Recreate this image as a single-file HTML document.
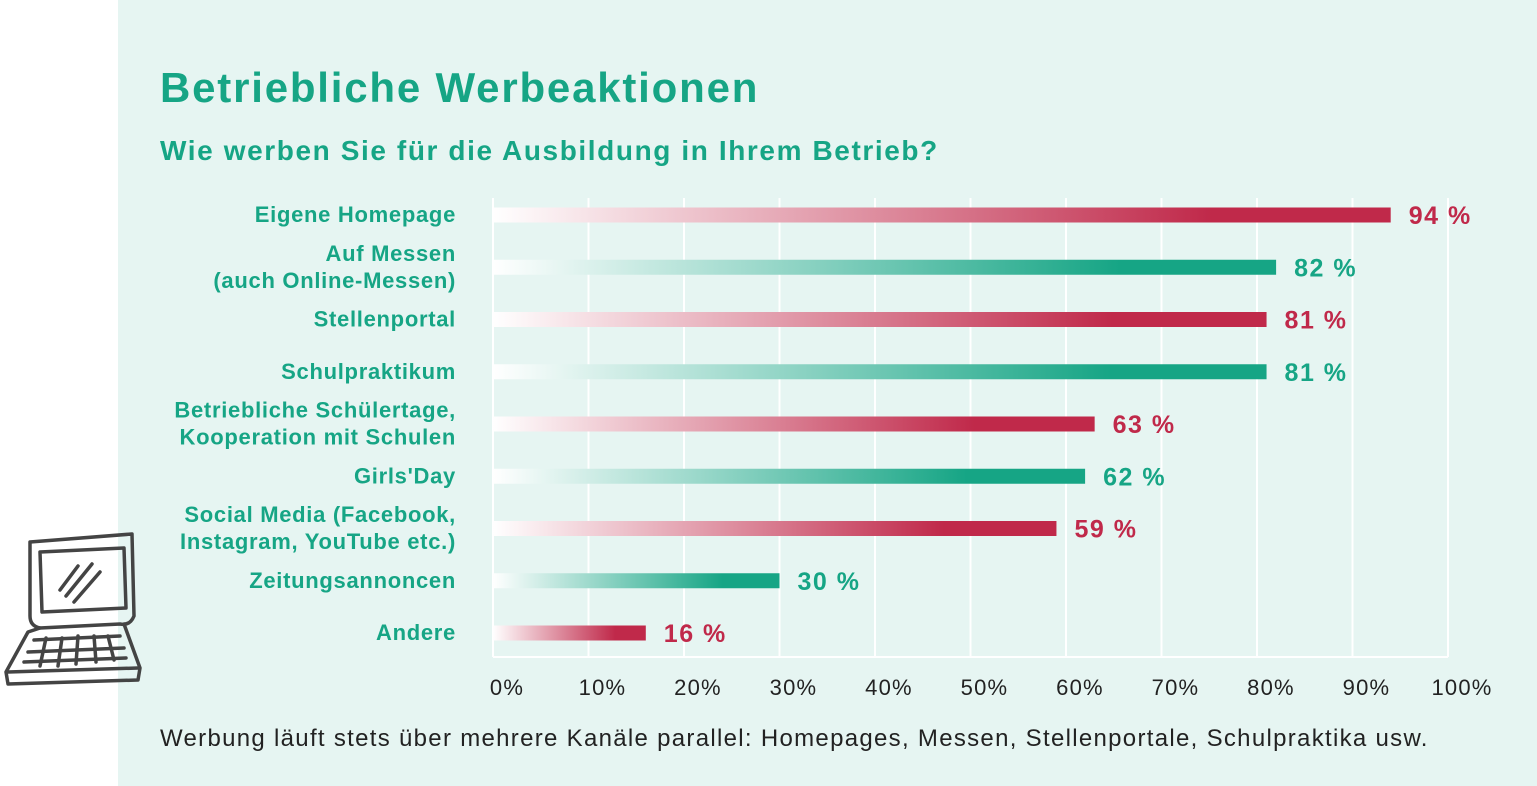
<!DOCTYPE html>
<html><head><meta charset="utf-8"><style>
body{margin:0;width:1537px;height:786px;overflow:hidden;background:#fff;font-family:"Liberation Sans","DejaVu Sans",sans-serif}
#panel{position:absolute;left:118px;top:0;width:1419px;height:786px;background:#e6f5f2}
.t{position:absolute;white-space:nowrap}
</style></head><body>
<div id="panel"></div>
<div class="t" style="left:160px;top:64px;font-size:42px;letter-spacing:1.8px;font-weight:bold;color:#16a585">Betriebliche Werbeaktionen</div>
<div class="t" style="left:160px;top:135px;font-size:28px;letter-spacing:1.6px;font-weight:bold;color:#16a585">Wie werben Sie für die Ausbildung in Ihrem Betrieb?</div>
<div class="t" style="left:160px;top:725px;font-size:24px;letter-spacing:1.3px;color:#222">Werbung läuft stets über mehrere Kanäle parallel: Homepages, Messen, Stellenportale, Schulpraktika usw.</div>
<svg style="position:absolute;left:0;top:520px" width="160" height="180" viewBox="0 0 160 180" fill="none" stroke="#444" stroke-width="3.5" stroke-linecap="round" stroke-linejoin="round">
<path d="M30 22 L132 14 L134 96 Q130 106 120 104 L40 108 Q30 106 30 96 Z"/>
<path d="M40 32 L124 28 L126 88 L42 92 Z"/>
<path d="M60 70 L78 46 M66 76 L92 44 M74 82 L100 52"/>
<path d="M40 108 L28 112 L6 152 L8 164 L138 160 L140 148 L124 104"/>
<path d="M8 152 L138 148"/>
<path d="M34 120 L120 116 M28 132 L124 128 M24 142 L126 138"/>
<path d="M46 118 L40 146 M62 118 L58 146 M78 116 L76 144 M94 116 L96 142 M108 116 L114 140"/>
</svg>
<svg id="chart" style="position:absolute;left:0;top:0" width="1537" height="786"></svg>
<script>
const categories=[["Eigene Homepage"],["Auf Messen","(auch Online-Messen)"],["Stellenportal"],["Schulpraktikum"],["Betriebliche Schülertage,","Kooperation mit Schulen"],["Girls'Day"],["Social Media (Facebook,","Instagram, YouTube etc.)"],["Zeitungsannoncen"],["Andere"]];
const values=[94,82,81,81,63,62,59,30,16];
const ticks=[0,10,20,30,40,50,60,70,80,90,100];
const NS="http://www.w3.org/2000/svg";
const svg=document.getElementById('chart');
const x0=493,x1=1448,y0=215,dy=52.25;
const xs=v=>x0+(x1-x0)*v/100;
const ys=i=>y0+i*dy;
function mk(t,a){const e=document.createElementNS(NS,t);for(const k in a)e.setAttribute(k,a[k]);svg.appendChild(e);return e;}
const defs=mk('defs',{});
[['red','#c0294a'],['green','#16a585']].forEach(([id,c])=>{const g=document.createElementNS(NS,'linearGradient');g.setAttribute('id','g'+id);g.innerHTML=`<stop offset="0" stop-color="#fff"/><stop offset="0.8" stop-color="${c}"/><stop offset="1" stop-color="${c}"/>`;defs.appendChild(g);});
ticks.forEach(t=>{
const l=mk('line',{x1:xs(t),x2:xs(t),y1:198,y2:657,stroke:'#fff','stroke-width':2});


const tx=mk('text',{x:xs(t)+14,y:695,'text-anchor':'middle','font-size':22,'letter-spacing':1.2,fill:'#222'});
tx.textContent=t+'%';


});
const ax=mk('line',{x1:x0,x2:x1,y1:657,y2:657,stroke:'#fff','stroke-width':2});


values.forEach((v,i)=>{
const col=i%2?'#16a585':'#c0294a';
const y=ys(i);
const r=mk('rect',{x:x0,y:y-7.5,width:xs(v)-x0,height:15,fill:'url(#g'+(i%2?'green':'red')+')'});


const vl=mk('text',{x:xs(v)+18,y:y+9,'font-size':25,'letter-spacing':1.5,'font-weight':'bold',fill:col});
vl.textContent=v+' %';


const lines=categories[i];
lines.forEach((s,j)=>{
const ty=y+7+(j-(lines.length-1)/2)*27;
const c=mk('text',{x:456,y:ty,'text-anchor':'end','font-size':22,'letter-spacing':0.7,'font-weight':'bold',fill:'#16a585'});
c.textContent=s;


});
});
</script>
</body></html>
